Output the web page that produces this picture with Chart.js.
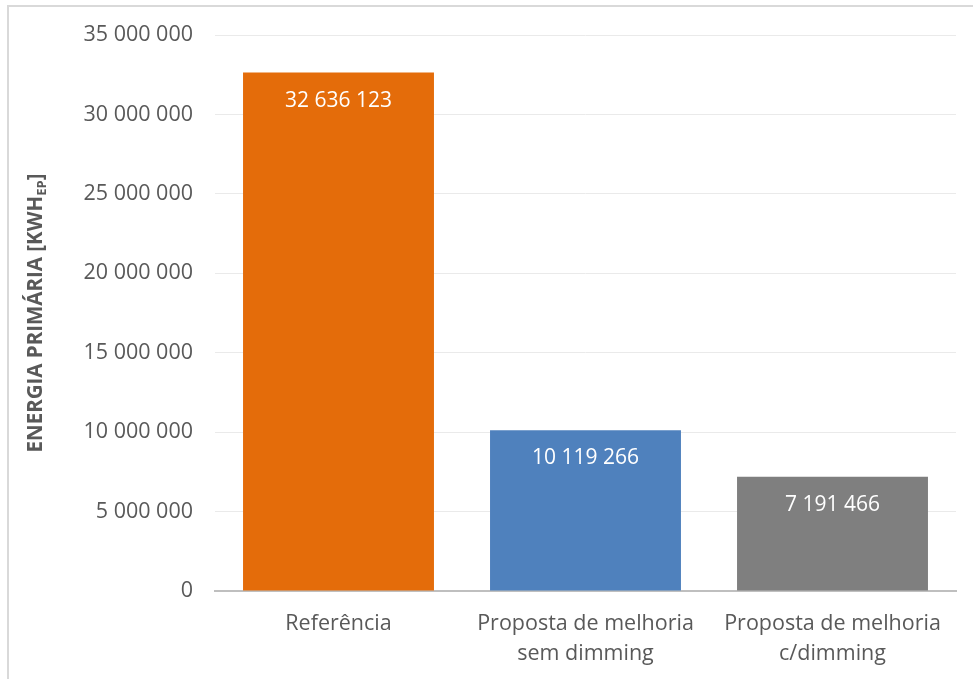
<!DOCTYPE html>
<html><head><meta charset="utf-8">
<script src="https://cdn.jsdelivr.net/npm/chart.js@4/dist/chart.umd.min.js"></script>
<style>html,body{margin:0;padding:0;background:#fff;}#wrap{width:973px;height:679px;position:relative;}</style>
</head><body><div id="wrap"><canvas id="c" width="973" height="679"></canvas></div>
<script>
const categories = [["Referência"], ["Proposta de melhoria", "sem dimming"], ["Proposta de melhoria", "c/dimming"]];
const values = [32636123, 10119266, 7191466];
const barColors = ["#E46C0A", "#4F81BD", "#7F7F7F"];
const yTitleMain = "ENERGIA PRIMÁRIA [KWH";
const yTitleSub = "EP";
const yTitleEnd = "]";
const FONT = "'Open Sans', sans-serif";
const fmt = v => Math.round(v).toString().replace(/\B(?=(\d{3})+(?!\d))/g, " ");

const framePlugin = {
  id: 'frame',
  beforeDraw(chart) {
    const ctx = chart.ctx;
    ctx.save();
    ctx.fillStyle = '#fff';
    ctx.fillRect(0, 0, chart.width, chart.height);
    ctx.strokeStyle = '#D9D9D9';
    ctx.lineWidth = 2;
    ctx.strokeRect(8, 6, chart.width + 20, chart.height + 20);
    ctx.restore();
  },
  afterDraw(chart) {
    const ctx = chart.ctx;
    const ca = chart.chartArea;
    ctx.save();
    ctx.translate(36, (ca.top + ca.bottom) / 2);
    ctx.rotate(-Math.PI / 2);
    ctx.fillStyle = '#595959';
    ctx.textBaseline = 'middle';
    const big = "bold 20.5px " + FONT, small = "bold 13px " + FONT;
    ctx.font = big; const w1 = ctx.measureText(yTitleMain).width; const w3 = ctx.measureText(yTitleEnd).width;
    ctx.font = small; const w2 = ctx.measureText(yTitleSub).width;
    let x = -(w1 + w2 + w3) / 2;
    ctx.font = big; ctx.fillText(yTitleMain, x, 0); x += w1;
    ctx.font = small; ctx.fillText(yTitleSub, x, 6); x += w2;
    ctx.font = big; ctx.fillText(yTitleEnd, x, 0);
    ctx.restore();
  },
  afterDatasetsDraw(chart) {
    const ctx = chart.ctx;
    const meta = chart.getDatasetMeta(0);
    ctx.save();
    ctx.fillStyle = '#fff';
    ctx.font = "21px " + FONT;
    ctx.textAlign = 'center';
    ctx.textBaseline = 'middle';
    meta.data.forEach((bar, i) => {
      ctx.fillText(fmt(values[i]), bar.x, bar.y + 28);
    });
    ctx.restore();
  }
};

new Chart(document.getElementById('c'), {
  type: 'bar',
  data: {
    labels: categories,
    datasets: [{ data: values, backgroundColor: barColors, borderWidth: 0, barPercentage: 0.773, categoryPercentage: 1 }]
  },
  options: {
    responsive: false,
    animation: false,
    layout: { padding: { left: 0, top: 35, right: 17, bottom: 0 } },
    plugins: { legend: { display: false }, tooltip: { enabled: false } },
    scales: {
      x: {
        grid: { display: false, drawTicks: false },
        border: { display: true, color: '#BFBFBF', width: 2 },
        ticks: { color: '#595959', font: { family: FONT, size: 21.5, lineHeight: 1.4 }, padding: 18, maxRotation: 0, autoSkip: false },
        afterFit(s) { s.height = 88; }
      },
      y: {
        min: 0, max: 35000000,
        grid: { color: '#EAEAEA', lineWidth: 1, drawTicks: false },
        border: { display: false },
        ticks: { stepSize: 5000000, color: '#595959', font: { family: FONT, size: 21.5 }, padding: 22, callback: v => fmt(v) },
        afterFit(s) { s.width = 215; }
      }
    }
  },
  plugins: [framePlugin]
});
</script></body></html>
